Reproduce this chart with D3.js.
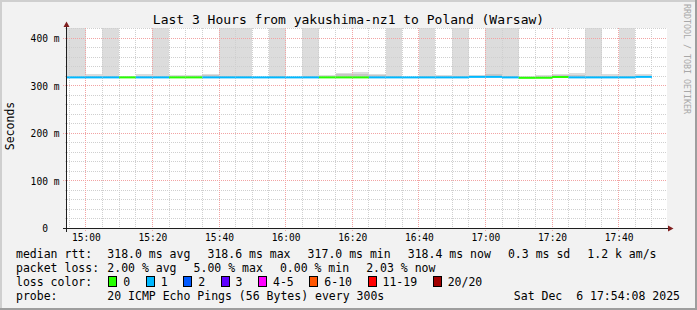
<!DOCTYPE html>
<html>
<head>
<meta charset="utf-8">
<script src="https://cdn.jsdelivr.net/npm/d3@7"></script>
<style>
body { margin: 0; background: #fff; }
svg { display: block; }
text { font-family: "DejaVu Sans Mono", monospace; fill: #000; white-space: pre; }
</style>
</head>
<body>
<div id="chart"></div>
<script>
// Data (5 minute steps, Sat Dec 6 2025)
var stepEnds = ["14:55","15:00","15:05","15:10","15:15","15:20","15:25","15:30","15:35","15:40",
  "15:45","15:50","15:55","16:00","16:05","16:10","16:15","16:20","16:25","16:30",
  "16:35","16:40","16:45","16:50","16:55","17:00","17:05","17:10","17:15","17:20",
  "17:25","17:30","17:35","17:40","17:45","17:50"];
var lossCount = [1,1,1,1,0,1,1,0,0,1, 1,1,1,1,1,1,0,0,0,1, 1,1,1,1,1,1,1,1,0,0, 0,1,1,1,1,1];
var medianMs = [317.8,317.8,317.8,317.8,317.8,317.8,317.8,317.8,317.8,317.8,
  317.8,317.8,317.8,317.8,317.8,317.8,317.8,317.8,317.8,317.8,
  317.8,317.8,317.8,317.8,317.8,318.9,318.9,317.8,316.9,317.0,
  318.6,317.8,317.8,317.8,317.8,318.9];
// smoke: top of the light band (pings beyond the chart top are clipped) and of the darker band
var smokeMaxMs = [450,450,324,450,320.5,324,450,322,322,326,
  450,450,319,450,319.5,450,322,328,330,326,
  450,319,450,322,450,323,450,450,321,323,
  325,327.5,450,324,450,325];
var smokeMidMs = [319.5,319.5,321,320,319,321,320,320,320,322,
  320,320,319,320,319,320,320,324,325,322,
  321,319,320,320,321,321,325,321,319.5,320.5,
  322,323,320,321,320,321];

var yTicks = [0, 100, 200, 300, 400];
var xTicks = ["15:00","15:20","15:40","16:00","16:20","16:40","17:00","17:20","17:40"];

var lossLabels = ["0","1","2","3","4-5","6-10","11-19","20/20"];
var lossColors = ["#26ff00","#00b8ff","#0059ff","#5e00ff","#ff00ff","#ff5500","#ff0000","#a10000"];
var medianStats = ["318.0 ms avg","318.6 ms max","317.0 ms min","318.4 ms now","0.3 ms sd","1.2 k am/s"];
var lossStats = ["2.00 % avg","5.00 % max","0.00 % min","2.03 % now"];

var title = "Last 3 Hours from yakushima-nz1 to Poland (Warsaw)";
var probeText = "20 ICMP Echo Pings (56 Bytes) every 300s";
var stampText = "Sat Dec  6 17:54:08 2025";

// Layout
var svgW = 697, svgH = 310;
var plot = { left: 67, right: 667, top: 28, bottom: 228 };
var parse = d3.timeParse("%Y-%m-%d %H:%M:%S");
var day = "2025-12-06 ";
var tStart = parse(day + "14:54:08"), tEnd = parse(day + "17:54:08");

var x = d3.scaleTime().domain([tStart, tEnd]).range([66.3, 665.7]);
var y = d3.scaleLinear().domain([0, 421.7]).range([228.5, 28]);
var px = function (v) { return Math.floor(v) + 0.5; };

function lossColor(n) {
  if (n <= 3) return lossColors[n];
  if (n <= 5) return lossColors[4];
  if (n <= 10) return lossColors[5];
  if (n <= 19) return lossColors[6];
  return lossColors[7];
}

var data = stepEnds.map(function (s, i) {
  var end = parse(day + s + ":00");
  return {
    start: d3.timeMinute.offset(end, -5), end: end,
    med: medianMs[i], hi: smokeMaxMs[i], mid: smokeMidMs[i], loss: lossCount[i]
  };
});

var svg = d3.select("#chart").append("svg")
  .attr("width", svgW).attr("height", svgH);

// Background and frame
svg.append("rect").attr("width", svgW).attr("height", svgH).attr("fill", "#f2f2f2");
svg.append("path").attr("d", "M0,1H697M1,0V310").attr("stroke", "#cfcfcf").attr("stroke-width", 2);
svg.append("path").attr("d", "M0,309H697M696,0V310").attr("stroke", "#9e9e9e").attr("stroke-width", 2);

svg.append("rect")
  .attr("x", plot.left).attr("y", plot.top)
  .attr("width", plot.right - plot.left).attr("height", plot.bottom - plot.top)
  .attr("fill", "#fff");

svg.append("clipPath").attr("id", "clip").append("rect")
  .attr("x", plot.left).attr("y", plot.top)
  .attr("width", plot.right - plot.left).attr("height", plot.bottom - plot.top);

// Smoke
var smoke = svg.append("g").attr("clip-path", "url(#clip)");
smoke.selectAll("rect.outer").data(data).enter().append("rect")
  .attr("class", "outer")
  .attr("x", d => x(d.start)).attr("width", d => x(d.end) - x(d.start))
  .attr("y", d => y(d.hi)).attr("height", d => Math.max(0, y(d.med) - y(d.hi)))
  .attr("fill", "#dcdcdc").attr("shape-rendering", "crispEdges");
smoke.selectAll("rect.inner").data(data).enter().append("rect")
  .attr("class", "inner")
  .attr("x", d => x(d.start)).attr("width", d => x(d.end) - x(d.start))
  .attr("y", d => y(d.mid)).attr("height", d => Math.max(0, y(d.med) - y(d.mid)))
  .attr("fill", "#c6c6c6").attr("shape-rendering", "crispEdges");

// Grid
var grid = svg.append("g").attr("fill", "none").attr("stroke-dasharray", "1,1");
var minorY = d3.range(20, 421, 20).filter(v => v % 100 !== 0);
var minorX = d3.timeMinute.every(5).range(tStart, tEnd).filter(t => t.getMinutes() % 20 !== 0);
var majorX = d3.timeMinute.every(20).range(tStart, tEnd);

grid.selectAll("line.hmin").data(minorY).enter().append("line")
  .attr("x1", 65).attr("x2", plot.right)
  .attr("y1", d => px(y(d))).attr("y2", d => px(y(d)))
  .attr("stroke", "#cfcfcf");
grid.selectAll("line.vmin").data(minorX).enter().append("line")
  .attr("x1", d => px(x(d))).attr("x2", d => px(x(d)))
  .attr("y1", plot.top).attr("y2", 230)
  .attr("stroke", "#cfcfcf");
grid.selectAll("line.hmaj").data(yTicks.filter(v => v > 0)).enter().append("line")
  .attr("x1", 63).attr("x2", plot.right)
  .attr("y1", d => px(y(d))).attr("y2", d => px(y(d)))
  .attr("stroke", "#f2a3a3");
grid.selectAll("line.vmaj").data(majorX).enter().append("line")
  .attr("x1", d => px(x(d))).attr("x2", d => px(x(d)))
  .attr("y1", plot.top).attr("y2", 231)
  .attr("stroke", "#f2a3a3");

// Median line, coloured by loss
svg.append("g").attr("clip-path", "url(#clip)")
  .selectAll("path").data(data).enter().append("path")
  .attr("d", d => "M" + x(d.start) + "," + y(d.med) + "H" + x(d.end))
  .attr("stroke", d => lossColor(d.loss)).attr("stroke-width", 2).attr("fill", "none");

// Axes
var xAxis = d3.axisBottom(x)
  .tickValues(xTicks.map(s => parse(day + s + ":00")))
  .tickFormat(d3.timeFormat("%H:%M")).tickSize(0).tickPadding(6);
var gx = svg.append("g").attr("transform", "translate(0,228)").call(xAxis);
gx.select(".domain").remove();
gx.selectAll("text").attr("font-size", "9.6px").attr("font-family", null).attr("dy", "0.72em");

var yAxis = d3.axisLeft(y).tickValues(yTicks)
  .tickFormat(d => d === 0 ? "0  " : d + " m").tickSize(0).tickPadding(7.5);
var gy = svg.append("g").attr("transform", "translate(67,0)").call(yAxis);
gy.select(".domain").remove();
gy.selectAll("text").attr("font-size", "9.6px").attr("font-family", null).attr("dy", "0.35em");

svg.append("path").attr("d", "M63,228.5H668").attr("stroke", "#1f1f1f");
svg.append("path").attr("d", "M66.5,232V26").attr("stroke", "#1f1f1f");
svg.append("path").attr("d", "M668,225.5L673.5,228.5L668,231.5Z").attr("fill", "#801f1f");
svg.append("path").attr("d", "M63.5,27L66.5,21.5L69.5,27Z").attr("fill", "#801f1f");

// Titles
svg.append("text").attr("x", 348.5).attr("y", 24).attr("text-anchor", "middle")
  .attr("font-size", "13px").text(title);
svg.append("text").attr("transform", "translate(14,126) rotate(-90)")
  .attr("text-anchor", "middle").attr("font-size", "11.5px").text("Seconds");
svg.append("text").attr("transform", "translate(684,59) rotate(90)")
  .attr("text-anchor", "middle").attr("font-size", "8.3px")
  .style("fill", "#a8a8a8").text("RRDTOOL / TOBI OETIKER");

// Legend
var cw = 6.93, legendSize = "11.5px";
function row(yb, label, items, gap) {
  svg.append("text").attr("x", 16).attr("y", yb).attr("font-size", legendSize).text(label);
  var xx = 107.3;
  items.forEach(function (s) {
    svg.append("text").attr("x", xx).attr("y", yb).attr("font-size", legendSize).text(s);
    xx += s.length * cw + gap;
  });
}
row(258, "median rtt:", medianStats, 17);
row(272, "packet loss:", lossStats, 17);

svg.append("text").attr("x", 16).attr("y", 286).attr("font-size", legendSize).text("loss color:");
var bx = 108.3;
lossLabels.forEach(function (s, i) {
  svg.append("rect").attr("x", Math.round(bx) + 0.5).attr("y", 276.5)
    .attr("width", 8).attr("height", 10)
    .attr("fill", lossColors[i]).attr("stroke", "#000");
  svg.append("text").attr("x", bx + 15).attr("y", 286).attr("font-size", legendSize).text(s);
  bx += 15 + s.length * cw + 15.5;
});

svg.append("text").attr("x", 16).attr("y", 300).attr("font-size", legendSize).text("probe:");
svg.append("text").attr("x", 107.3).attr("y", 300).attr("font-size", legendSize).text(probeText);
svg.append("text").attr("x", 680).attr("y", 300).attr("text-anchor", "end")
  .attr("font-size", legendSize).text(stampText);
</script>
</body>
</html>
